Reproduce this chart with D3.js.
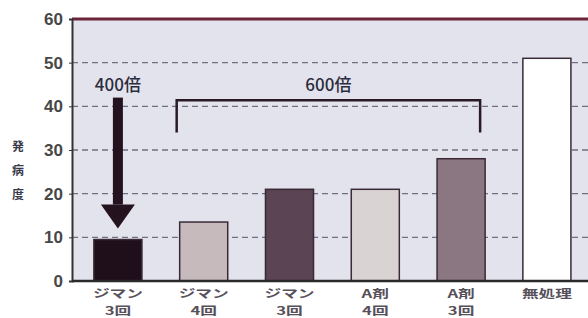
<!DOCTYPE html>
<html>
<head>
<meta charset="utf-8">
<script src="https://cdn.jsdelivr.net/npm/d3@7"></script>
<style>
  body { margin: 0; background: #fff; }
  svg { display: block; }
</style>
</head>
<body>
<div id="chart"></div>
<script>
// data
var categories = ["ジマン3回", "ジマン4回", "ジマン3回 ", "A剤4回", "A剤3回", "無処理"];
var labelLine1 = ["ジマン", "ジマン", "ジマン", "A剤", "A剤", "無処理"];
var labelLine2 = ["3回", "4回", "3回", "4回", "3回", ""];
var values = [9.5, 13.5, 21, 21, 28, 51];
var barColors = ["#1f0f1b", "#c6babd", "#5b4453", "#d9d3d3", "#8b7781", "#ffffff"];
var yTicks = [0, 10, 20, 30, 40, 50, 60];
var yLabel = ["発", "病", "度"];

var width = 588, height = 318;
var margin = {top: 19, right: 0, bottom: 37, left: 72};
var w = width - margin.left - margin.right,
    h = height - margin.top - margin.bottom;

var svg = d3.select("#chart").append("svg")
    .attr("width", width)
    .attr("height", height);

var plot = svg.append("g")
    .attr("transform", "translate(" + margin.left + "," + margin.top + ")");

var x = d3.scaleBand()
    .domain(categories)
    .range([3, 3 + 6 * 85.8])
    .paddingInner(0.44)
    .paddingOuter(0.22);

var y = d3.scaleLinear()
    .domain([0, 60])
    .range([h, 0]);

// background
plot.append("rect")
    .attr("width", w)
    .attr("height", h)
    .attr("fill", "#e3e3ee");

// dashed grid
plot.selectAll(".grid")
    .data(yTicks.filter(function(d){ return d > 0 && d < 60; }))
    .enter()
    .append("line")
    .attr("x1", 0)
    .attr("x2", w)
    .attr("y1", function(d){ return y(d); })
    .attr("y2", function(d){ return y(d); })
    .attr("stroke", "#707080")
    .attr("stroke-width", 1.4)
    .attr("stroke-dasharray", "6,4");

// bars
plot.selectAll(".bar")
    .data(values)
    .enter()
    .append("rect")
    .attr("x", function(d, i){ return x(categories[i]); })
    .attr("y", function(d){ return y(d); })
    .attr("width", x.bandwidth())
    .attr("height", function(d){ return h - y(d); })
    .attr("fill", function(d, i){ return barColors[i]; })
    .attr("stroke", "#3a2a36")
    .attr("stroke-width", 1.5);

// top border
plot.append("line")
    .attr("x1", 0).attr("x2", w)
    .attr("y1", 0).attr("y2", 0)
    .attr("stroke", "#6a2638")
    .attr("stroke-width", 3);

// axes
var yAxis = plot.append("g")
    .call(d3.axisLeft(y).tickValues(yTicks).tickSize(3).tickPadding(6));
yAxis.select(".domain").attr("stroke", "#333").attr("stroke-width", 2);
yAxis.selectAll("line").attr("stroke", "#333");
yAxis.selectAll("text")
    .attr("font-family", "Liberation Sans, Arial, sans-serif")
    .attr("font-size", "17px")
    .attr("font-weight", "bold")
    .attr("fill", "#474747");

plot.append("line")
    .attr("x1", 0).attr("x2", w)
    .attr("y1", h).attr("y2", h)
    .attr("stroke", "#2a2a2a")
    .attr("stroke-width", 2.5);

// category labels, drawn a bit wide like the print
var lab = plot.append("g")
    .attr("font-family", "Noto Sans CJK JP")
    .attr("font-size", "11.5px")
    .attr("font-weight", "bold")
    .attr("fill", "#56505a")
    .attr("text-anchor", "middle");
var labRows = [[labelLine1, h + 16.5], [labelLine2, h + 33.5]];
labRows.forEach(function(row){
    lab.append("g").selectAll("g")
        .data(row[0])
        .enter()
        .append("g")
        .attr("transform", function(d, i){
            return "translate(" + (x(categories[i]) + x.bandwidth() / 2) + "," + row[1] + ") scale(1.45,1)";
        })
        .append("text")
        .text(function(d){ return d; });
});

// y label
svg.selectAll(".ylab")
    .data(yLabel)
    .enter()
    .append("text")
    .attr("x", 18)
    .attr("y", function(d, i){ return 151 + i * 24; })
    .attr("text-anchor", "middle")
    .attr("font-family", "Noto Sans CJK JP")
    .attr("font-size", "12px")
    .attr("font-weight", "bold")
    .attr("fill", "#3a3a4a")
    .text(function(d){ return d; });

// arrow 400倍
var cx0 = x(categories[0]) + x.bandwidth() / 2;
plot.append("rect")
    .attr("x", cx0 - 5)
    .attr("y", y(42))
    .attr("width", 10)
    .attr("height", y(17.5) - y(42))
    .attr("fill", "#24121e");
plot.append("path")
    .attr("d", "M" + (cx0 - 17) + "," + y(17.5) + "L" + (cx0 + 17) + "," + y(17.5) + "L" + cx0 + "," + y(12) + "Z")
    .attr("fill", "#24121e");
plot.append("text")
    .attr("x", cx0)
    .attr("y", y(43.5))
    .attr("text-anchor", "middle")
    .attr("font-family", "Noto Sans CJK JP")
    .attr("font-size", "17px")
    .attr("font-weight", "500")
    .attr("fill", "#2c2c3c")
    .text("400倍");

// bracket 600倍
var bx1 = x(categories[1]) - 3,
    bx2 = x(categories[4]) + x.bandwidth() - 5;
plot.append("path")
    .attr("d", "M" + bx1 + "," + y(34) + "L" + bx1 + "," + y(41.4) + "L" + bx2 + "," + y(41.4) + "L" + bx2 + "," + y(34))
    .attr("fill", "none")
    .attr("stroke", "#2a1a26")
    .attr("stroke-width", 2.5);
plot.append("text")
    .attr("x", (bx1 + bx2) / 2)
    .attr("y", y(43.5))
    .attr("text-anchor", "middle")
    .attr("font-family", "Noto Sans CJK JP")
    .attr("font-size", "17px")
    .attr("font-weight", "500")
    .attr("fill", "#2c2c3c")
    .text("600倍");
</script>
</body>
</html>
